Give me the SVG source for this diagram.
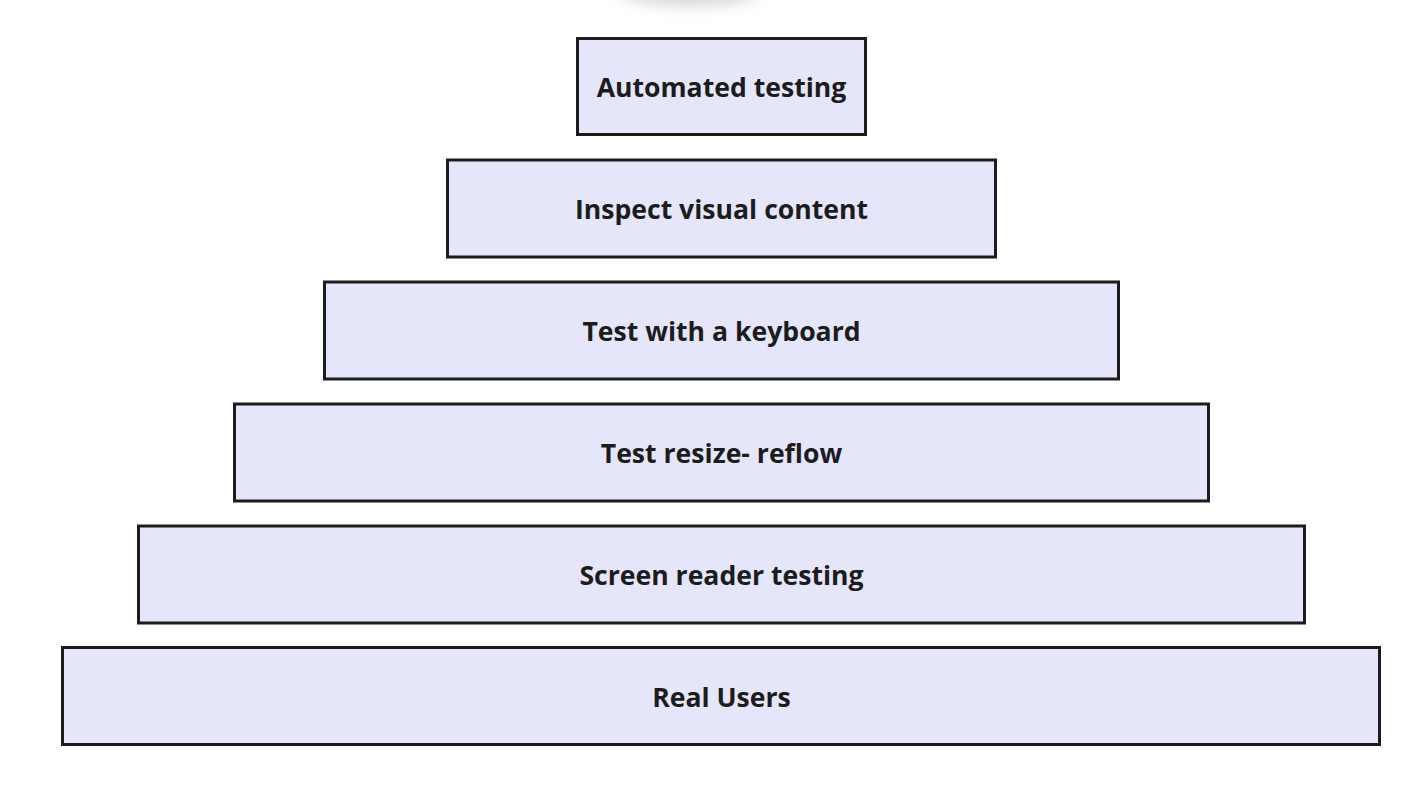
<svg xmlns="http://www.w3.org/2000/svg" width="1426" height="788" viewBox="0 0 1426 788">
<defs>
<style>
.box{fill:#E6E6FA;stroke:#1c1c1c;stroke-width:3}
.lbl{font-family:"Open Sans","Noto Sans",sans-serif;font-weight:700;font-size:26.6px;fill:#1c1c1c;text-anchor:middle}
</style>
<filter id="blur" x="-50%" y="-200%" width="200%" height="500%"><feGaussianBlur stdDeviation="7"/></filter>
</defs>
<rect width="1426" height="788" fill="#ffffff"/>
<ellipse cx="690" cy="-8" rx="70" ry="14" fill="#bdbdbd" opacity="0.6" filter="url(#blur)"/>
<g id="connectors"></g>
<g id="n1"><rect class="box" x="577.5" y="38.5" width="288" height="96"/><text class="lbl" x="721.5" y="96.5">Automated testing</text></g>
<g id="n2"><rect class="box" x="447.5" y="160" width="548" height="97"/><text class="lbl" x="721.5" y="218.5">Inspect visual content</text></g>
<g id="n3"><rect class="box" x="324.5" y="282" width="794" height="97"/><text class="lbl" x="721.5" y="340.5">Test with a keyboard</text></g>
<g id="n4"><rect class="box" x="234.5" y="404" width="974" height="97"/><text class="lbl" x="721.5" y="462.5">Test resize- reflow</text></g>
<g id="n5"><rect class="box" x="138.5" y="526" width="1166" height="97"/><text class="lbl" x="721.5" y="584.5">Screen reader testing</text></g>
<g id="n6"><rect class="box" x="62.5" y="647.5" width="1317" height="97"/><text class="lbl" x="721.5" y="706.5">Real Users</text></g>
</svg>
